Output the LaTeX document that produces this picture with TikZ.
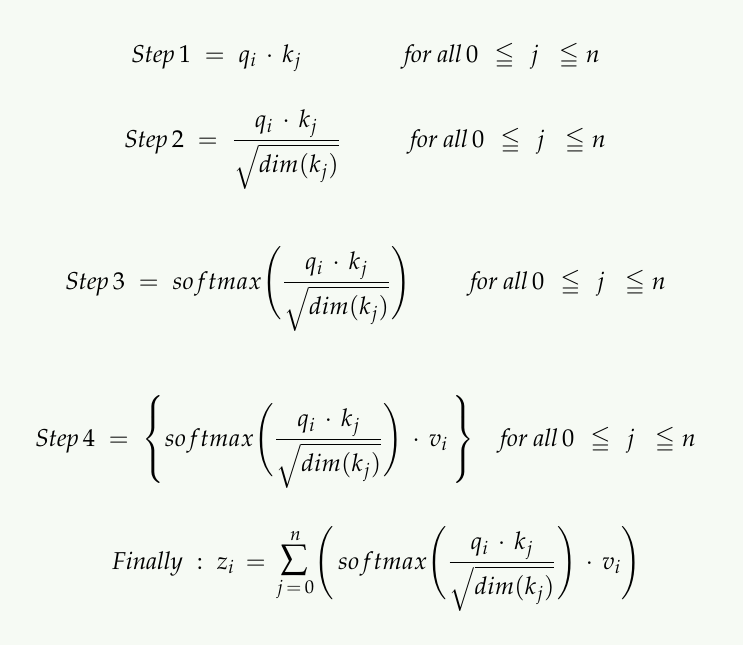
\documentclass[tikz,border=0pt]{standalone}
\usepackage[T1]{fontenc}
\usepackage{amsmath}
\usepackage{amssymb}
\usepackage{mathpazo}
\usetikzlibrary{positioning}

\definecolor{paper}{RGB}{246,250,244}
\newcommand{\qkfrac}{\dfrac{q_i \,\cdot\, k_j}{\sqrt{dim(k_j)}}}
\newcommand{\smax}{softmax\Bigg(\qkfrac\Bigg)}
\newcommand{\allj}{$\textit{for all\/}\,0 \mskip7mu\leqq\mskip7mu j \mskip10mu\leqq n$}

\begin{document}
\begin{tikzpicture}[x=0.5pt, y=-0.5pt, eqn/.style={inner sep=0pt, anchor=base west, font=\fontsize{12.2}{15}\selectfont}]
	\fill[paper] (0,0) rectangle (743,645);
	
	\node[eqn] (step1) at (131,62) {$\textit{Step}\,1 \;=\; q_i \,\cdot\, k_j$};
	\node[eqn] (cond1) at (404,62) {\allj};
	
	\node[eqn] (step2) at (124,147) {$\textit{Step}\,2 \;=\; \qkfrac$};
	\node[eqn] (cond2) at (410,147) {\allj};
	
	\node[eqn] (step3) at (65,289) {$\textit{Step}\,3 \;=\; \smax$};
	\node[eqn] (cond3) at (470,289) {\allj};
	
	\node[eqn] (step4) at (35,446) {$\textit{Step}\,4 \;=\; \left\{\smax \,\cdot\, v_i \,\right\}$};
	\node[eqn] (cond4) at (500,446) {\allj};
	
	\node[eqn] (final) at (112,569) {$\textit{Finally}\;:\;z_i \,=\, \mathop{\scalebox{1.4}{$\textstyle\sum$}}\limits_{j\,=\,0}^{n}\!\Bigg(\,softmax\Bigg(\qkfrac\Bigg) \,\cdot\, v_i\Bigg)$};
\end{tikzpicture}
\end{document}
